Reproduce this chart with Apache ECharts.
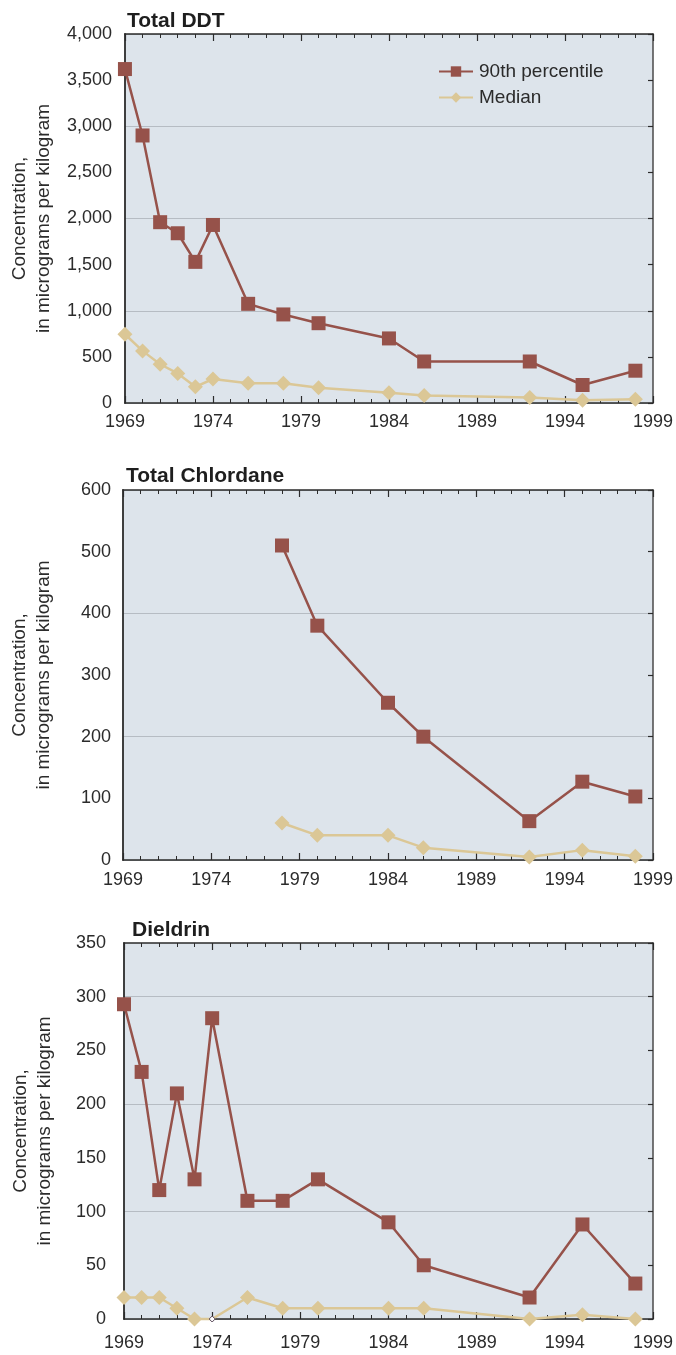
<!DOCTYPE html>
<html>
<head>
<meta charset="utf-8">
<script src="https://cdn.jsdelivr.net/npm/echarts@6/dist/echarts.min.js"></script>
<style>
html,body{margin:0;padding:0;background:#fff;}
#chart{width:676px;height:1355px;}
</style>
</head>
<body>
<div id="chart"></div>
<script>
// ---- data ----
const titles = ['Total DDT', 'Total Chlordane', 'Dieldrin'];
const seriesNames = ['90th percentile', 'Median'];
const yAxisName = 'Concentration,\nin micrograms per kilogram';
const xTickYears = [1969, 1974, 1979, 1984, 1989, 1994, 1999];

const ddtYears = [1969, 1970, 1971, 1972, 1973, 1974, 1976, 1978, 1980, 1984, 1986, 1992, 1995, 1998];
const ddtP90 = [3620, 2900, 1960, 1840, 1530, 1930, 1075, 960, 865, 700, 450, 450, 195, 350];
const ddtMedian = [745, 565, 420, 320, 175, 260, 215, 215, 165, 110, 80, 60, 30, 40];
const ddtTicks = [0, 500, 1000, 1500, 2000, 2500, 3000, 3500, 4000];

const chlYears = [1978, 1980, 1984, 1986, 1992, 1995, 1998];
const chlP90 = [510, 380, 255, 200, 63, 127, 103];
const chlMedian = [60, 40, 40, 20, 5, 16, 6];
const chlTicks = [0, 100, 200, 300, 400, 500, 600];

const dieYears = [1969, 1970, 1971, 1972, 1973, 1974, 1976, 1978, 1980, 1984, 1986, 1992, 1995, 1998];
const dieP90 = [293, 230, 120, 210, 130, 280, 110, 110, 130, 90, 50, 20, 88, 33];
const dieMedian = [20, 20, 20, 10, 0, 0, 20, 10, 10, 10, 10, 0, 4, 0];
const dieTicks = [0, 50, 100, 150, 200, 250, 300, 350];
const dieHollowYears = [1974];

// ---- styling ----
const P90_COLOR = '#96524a';
const MED_COLOR = '#dbc796';
const BG = '#dde4eb';
const GRIDLINE = '#b6bcc3';
const AXIS = '#2b2b2b';
const TEXT = '#2b2b2b';
const NARROW = "'Liberation Sans Narrow', 'Arial Narrow', 'Liberation Sans', sans-serif";
const REGULAR = "'Liberation Sans', Arial, sans-serif";

const panels = [
  {title: titles[0], years: ddtYears, p90: ddtP90, med: ddtMedian, ticks: ddtTicks, hollow: [],
   grid: {left: 119, top: 34, width: 534, height: 369}, titleTop: 6, ylMargin: 13, xlMargin: 10},
  {title: titles[1], years: chlYears, p90: chlP90, med: chlMedian, ticks: chlTicks, hollow: [],
   grid: {left: 118, top: 490, width: 535, height: 370}, titleTop: 461, ylMargin: 12, xlMargin: 11},
  {title: titles[2], years: dieYears, p90: dieP90, med: dieMedian, ticks: dieTicks, hollow: dieHollowYears,
   grid: {left: 124, top: 943, width: 536, height: 376}, titleTop: 915, ylMargin: 18, xlMargin: 15}
];

const option = {
  animation: false,
  backgroundColor: '#fff',
  title: [],
  legend: {
    data: seriesNames,
    orient: 'vertical',
    left: 433,
    top: 57,
    itemWidth: 34,
    itemHeight: 13,
    itemGap: 7,
    textStyle: {fontFamily: NARROW, fontSize: 19, color: TEXT, padding: [0, 0, 0, 1]}
  },
  grid: [],
  xAxis: [],
  yAxis: [],
  series: []
};

panels.forEach((p, i) => {
  const ymin = p.ticks[0];
  const ymax = p.ticks[p.ticks.length - 1];
  const yint = p.ticks[1] - p.ticks[0];
  option.title.push({
    text: p.title, left: p.grid.left + 3, top: p.titleTop,
    textStyle: {fontFamily: NARROW, fontWeight: 'bold', fontSize: 21, color: '#1e1e1e'}
  });
  option.grid.push(Object.assign({show: true, backgroundColor: BG, borderWidth: 0, containLabel: false}, p.grid));
  const xBase = {
    type: 'value', gridIndex: i, min: xTickYears[0], max: xTickYears[xTickYears.length - 1], interval: 5,
    splitLine: {show: false},
    axisLine: {show: true, onZero: false, lineStyle: {color: AXIS, width: 1.5}},
    axisTick: {show: true, inside: true, length: 7, lineStyle: {color: AXIS, width: 1.2}},
    minorTick: {show: true, splitNumber: 5, length: 4, lineStyle: {color: AXIS, width: 1}},
  };
  option.xAxis.push(Object.assign({}, xBase, {
    position: 'bottom',
    axisLabel: {show: true, margin: p.xlMargin, fontFamily: NARROW, fontSize: 18, color: TEXT, formatter: v => String(v)}
  }));
  option.xAxis.push(Object.assign({}, xBase, {
    position: 'top', axisLabel: {show: false}
  }));
  option.yAxis.push({
    type: 'value', gridIndex: i, position: 'left', min: ymin, max: ymax, interval: yint,
    name: yAxisName, nameLocation: 'middle', nameRotate: 90, nameGap: 67,
    nameTextStyle: {fontFamily: REGULAR, fontSize: 19, color: TEXT, lineHeight: 24},
    axisLine: {show: true, lineStyle: {color: AXIS, width: 1.8}},
    axisTick: {show: false},
    splitLine: {show: true, lineStyle: {color: [GRIDLINE, 'transparent'], width: 1.2}},
    axisLabel: {show: true, margin: p.ylMargin, fontFamily: NARROW, fontSize: 18, color: TEXT,
      formatter: v => v.toLocaleString('en-US')}
  });
  option.yAxis.push({
    type: 'value', gridIndex: i, position: 'right', min: ymin, max: ymax, interval: yint,
    axisLine: {show: true, lineStyle: {color: '#4a4a4a', width: 1.5}},
    axisTick: {show: true, inside: true, length: 5, lineStyle: {color: AXIS, width: 1.2}},
    splitLine: {show: false},
    axisLabel: {show: false}
  });
  option.series.push({
    name: seriesNames[0], type: 'line', xAxisIndex: 2 * i, yAxisIndex: 2 * i, clip: false, z: 3,
    data: p.years.map((y, k) => [y, p.p90[k]]),
    symbol: 'rect', symbolSize: 14,
    lineStyle: {color: P90_COLOR, width: 2.5},
    itemStyle: {color: P90_COLOR}
  });
  option.series.push({
    name: seriesNames[1], type: 'line', xAxisIndex: 2 * i, yAxisIndex: 2 * i, clip: false, z: 2,
    data: p.years.map((y, k) => {
      const d = {value: [y, p.med[k]]};
      if (p.hollow.indexOf(y) >= 0) {
        d.symbolSize = 6;
        d.itemStyle = {color: '#ffffff', borderColor: '#5a4a5a', borderWidth: 1};
      }
      return d;
    }),
    symbol: 'diamond', symbolSize: 15,
    lineStyle: {color: MED_COLOR, width: 2.5},
    itemStyle: {color: MED_COLOR}
  });
});

const chart = echarts.init(document.getElementById('chart'), null, {renderer: 'canvas'});
chart.setOption(option);
</script>
</body>
</html>
